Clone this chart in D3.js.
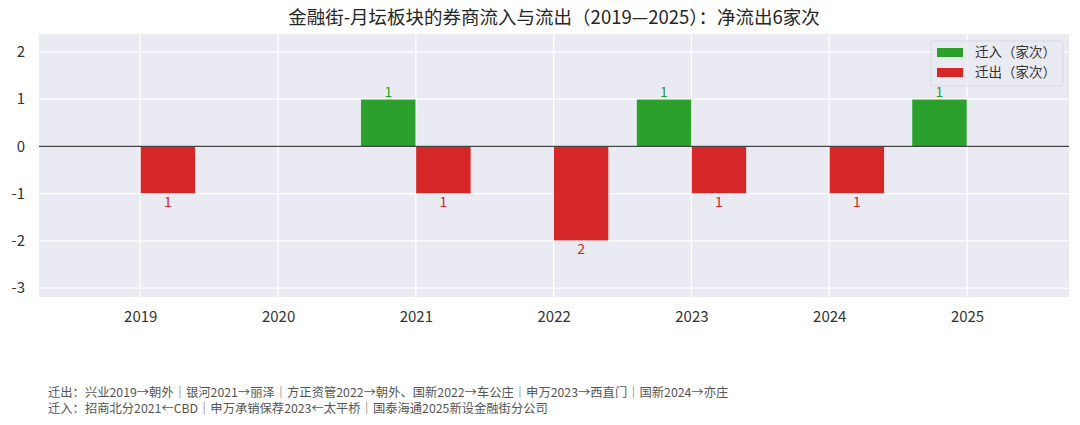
<!DOCTYPE html>
<html>
<head>
<meta charset="utf-8">
<script src="https://cdn.jsdelivr.net/npm/d3@7"></script>
<style>
  html, body { margin: 0; padding: 0; background: #fff; }
  svg { display: block; font-family: "Noto Sans CJK SC", "Noto Sans", sans-serif; }
</style>
</head>
<body>
<div id="chart"></div>
<script>
// data
const years = [2019, 2020, 2021, 2022, 2023, 2024, 2025];
const inflow = [0, 0, 1, 0, 1, 0, 1];
const outflow = [1, 0, 1, 2, 1, 1, 0];
const yTicks = [-3, -2, -1, 0, 1, 2];
const seriesNames = ["迁入（家次）", "迁出（家次）"];
const titleText = "金融街-月坛板块的券商流入与流出（2019—2025）：净流出6家次";
const notes = [
  "迁出：兴业2019→朝外｜银河2021→丽泽｜方正资管2022→朝外、国新2022→车公庄｜申万2023→西直门｜国新2024→亦庄",
  "迁入：招商北分2021←CBD｜申万承销保荐2023←太平桥｜国泰海通2025新设金融街分公司"
];

(() => {
  const width = 1080, height = 425;
  const margin = { top: 34, right: 11, bottom: 128, left: 39 };
  const innerW = width - margin.left - margin.right;
  const innerH = height - margin.top - margin.bottom;

  const GREEN = "#2ca02c", RED = "#d62728";

  const svg = d3.select("#chart").append("svg")
    .attr("width", width).attr("height", height);

  svg.append("text")
    .attr("x", 554).attr("y", 24)
    .attr("text-anchor", "middle")
    .attr("font-size", 18.5)
    .attr("fill", "#262626")
    .text(titleText);

  const g = svg.append("g").attr("transform", `translate(${margin.left},${margin.top})`);

  const x = d3.scaleLinear().domain([2018.265, 2025.74]).range([0, innerW]);
  const y = d3.scaleLinear().domain([-3.19, 2.38]).range([innerH, 0]);

  g.append("rect").attr("width", innerW).attr("height", innerH).attr("fill", "#eaeaf2");

  // grid
  g.selectAll(".hgrid").data(yTicks).join("line")
    .attr("x1", 0).attr("x2", innerW)
    .attr("y1", d => y(d)).attr("y2", d => y(d))
    .attr("stroke", "#fff").attr("stroke-width", 1.3);
  g.selectAll(".vgrid").data(years).join("line")
    .attr("y1", 0).attr("y2", innerH)
    .attr("x1", d => x(d)).attr("x2", d => x(d))
    .attr("stroke", "#fff").attr("stroke-width", 1.3);

  // axes (plain hyphen for negatives, like the original)
  const yAxis = g.append("g")
    .call(d3.axisLeft(y).tickValues(yTicks).tickFormat(d => String(d)).tickSize(0).tickPadding(14));
  yAxis.select(".domain").remove();
  yAxis.selectAll("text").attr("font-size", 15).attr("fill", "#333")
    .attr("font-family", "'Noto Sans CJK SC', sans-serif");

  const xAxis = g.append("g").attr("transform", `translate(0,${innerH})`)
    .call(d3.axisBottom(x).tickValues(years).tickFormat(d => String(d)).tickSize(0).tickPadding(14));
  xAxis.select(".domain").remove();
  xAxis.selectAll("text").attr("font-size", 15).attr("fill", "#333")
    .attr("font-family", "'Noto Sans CJK SC', sans-serif");

  const bw = 0.4;
  const rows = years.map((yr, i) => ({ yr, inn: inflow[i], out: outflow[i] }));

  // bars
  g.selectAll(".bin").data(rows.filter(d => d.inn > 0)).join("rect")
    .attr("x", d => x(d.yr - bw)).attr("width", x(bw) - x(0))
    .attr("y", d => y(d.inn)).attr("height", d => y(0) - y(d.inn))
    .attr("fill", GREEN).attr("stroke", "#fff").attr("stroke-width", 0.6);
  g.selectAll(".bout").data(rows.filter(d => d.out > 0)).join("rect")
    .attr("x", d => x(d.yr)).attr("width", x(bw) - x(0))
    .attr("y", y(0)).attr("height", d => y(-d.out) - y(0))
    .attr("fill", RED).attr("stroke", "#fff").attr("stroke-width", 0.6);

  // labels
  g.selectAll(".lin").data(rows.filter(d => d.inn > 0)).join("text")
    .attr("x", d => x(d.yr - bw / 2)).attr("y", d => y(d.inn) - 2)
    .attr("text-anchor", "middle").attr("font-size", 14).attr("fill", GREEN)
    .text(d => d.inn);
  g.selectAll(".lout").data(rows.filter(d => d.out > 0)).join("text")
    .attr("x", d => x(d.yr + bw / 2)).attr("y", d => y(-d.out) + 13)
    .attr("text-anchor", "middle").attr("font-size", 14).attr("fill", RED)
    .text(d => d.out);

  // zero line
  g.append("line").attr("x1", 0).attr("x2", innerW)
    .attr("y1", y(0)).attr("y2", y(0))
    .attr("stroke", "#444").attr("stroke-width", 1.1);

  // legend
  const lg = svg.append("g").attr("transform", "translate(931,41)");
  lg.append("rect").attr("width", 132).attr("height", 45).attr("rx", 3)
    .attr("fill", "#eaeaf2").attr("fill-opacity", 0.9)
    .attr("stroke", "#d4d4dc").attr("stroke-width", 0.8);
  seriesNames.forEach((name, i) => {
    lg.append("rect").attr("x", 6).attr("y", 7 + i * 20).attr("width", 26).attr("height", 9)
      .attr("fill", i === 0 ? GREEN : RED);
    lg.append("text").attr("x", 44).attr("y", 16 + i * 20)
      .attr("font-size", 13.5).attr("fill", "#333").text(name);
  });

  // footnotes
  notes.forEach((t, i) => {
    svg.append("text").attr("x", 48).attr("y", 397 + i * 16)
      .attr("font-size", 12.3).attr("fill", "#555").text(t);
  });
})();
</script>
</body>
</html>
